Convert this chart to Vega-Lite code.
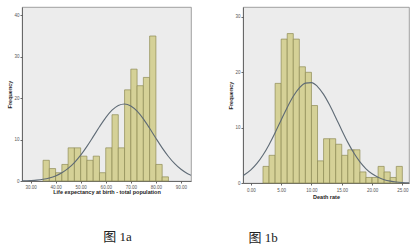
{
  "$schema": "https://vega.github.io/schema/vega-lite/v6.json",
  "padding": {"left": 7, "top": 6, "right": 0, "bottom": 0},
  "autosize": {"type": "pad"},
  "background": "white",
  "config": {
    "view": {"fill": "#ECECEC", "stroke": "#8A8A8A", "strokeWidth": 0.8},
    "axis": {
      "grid": false,
      "labelOverlap": false,
      "labelFlush": false,
      "labelFontSize": 4.5,
      "labelColor": "#555555",
      "labelFont": "Liberation Sans",
      "titleFont": "Liberation Sans",
      "titleFontSize": 5.5,
      "titleFontWeight": "bold",
      "titleColor": "#222222",
      "tickSize": 2,
      "tickColor": "#666666",
      "domainColor": "#555555",
      "domainWidth": 0.8,
      "labelPadding": 1,
      "titlePadding": 1.5
    },
    "title": {"font": "Liberation Serif, Noto Sans CJK SC", "fontSize": 13, "fontWeight": "normal", "color": "#222222"}
  },
  "spacing": 36,
  "hconcat": [
    {
      "width": 169,
      "height": 174,
      "title": {"text": "图 1a", "orient": "bottom", "anchor": "middle", "dx": 11, "offset": 36},
      "encoding": {
        "x": {"type": "quantitative", "title": "Life expectancy at birth - total population",
              "scale": {"domain": [26.6, 94], "nice": false, "zero": false},
              "axis": {"values": [30, 40, 50, 60, 70, 80, 90], "format": ".2f", "titlePadding": 1, "labelOverlap": false}},
        "y": {"type": "quantitative", "title": "Frequency",
              "scale": {"domain": [0, 42], "nice": false},
              "axis": {"values": [0, 10, 20, 30, 40], "labelOverlap": false}}
      },
      "layer": [
        {
          "data": {"values": [
            {"lo": 35, "hi": 37.5, "count": 5},
            {"lo": 37.5, "hi": 40, "count": 3},
            {"lo": 40, "hi": 42.5, "count": 2},
            {"lo": 42.5, "hi": 45, "count": 4},
            {"lo": 45, "hi": 47.5, "count": 8},
            {"lo": 47.5, "hi": 50, "count": 8},
            {"lo": 50, "hi": 52.5, "count": 6},
            {"lo": 52.5, "hi": 55, "count": 5},
            {"lo": 55, "hi": 57.5, "count": 6},
            {"lo": 57.5, "hi": 60, "count": 2},
            {"lo": 60, "hi": 62.5, "count": 8},
            {"lo": 62.5, "hi": 65, "count": 16},
            {"lo": 65, "hi": 67.5, "count": 8},
            {"lo": 67.5, "hi": 70, "count": 22},
            {"lo": 70, "hi": 72.5, "count": 27},
            {"lo": 72.5, "hi": 75, "count": 23},
            {"lo": 75, "hi": 77.5, "count": 25},
            {"lo": 77.5, "hi": 80, "count": 35},
            {"lo": 80, "hi": 82.5, "count": 4},
            {"lo": 82.5, "hi": 85, "count": 1}
          ]},
          "mark": {"type": "rect", "fill": "#D5D197", "stroke": "#8E8B55", "strokeWidth": 0.7},
          "encoding": {
            "x": {"field": "lo"},
            "x2": {"field": "hi"},
            "y": {"field": "count"},
            "y2": {"datum": 0}
          }
        },
        {
          "data": {"values": [
            {"x": 26.6, "y": 0.04}, {"x": 30, "y": 0.12}, {"x": 32.5, "y": 0.22}, {"x": 35, "y": 0.41},
            {"x": 37.5, "y": 0.73}, {"x": 40, "y": 1.22}, {"x": 42.5, "y": 1.97}, {"x": 45, "y": 3.03},
            {"x": 47.5, "y": 4.44}, {"x": 50, "y": 6.23}, {"x": 52.5, "y": 8.36}, {"x": 55, "y": 10.7},
            {"x": 57.5, "y": 13.09}, {"x": 60, "y": 15.31}, {"x": 62.5, "y": 17.1}, {"x": 65, "y": 18.24},
            {"x": 67.5, "y": 18.6}, {"x": 70, "y": 18.11}, {"x": 72.5, "y": 16.85}, {"x": 75, "y": 14.98},
            {"x": 77.5, "y": 12.72}, {"x": 80, "y": 10.32}, {"x": 82.5, "y": 8.0}, {"x": 85, "y": 5.92},
            {"x": 87.5, "y": 4.19}, {"x": 90, "y": 2.83}, {"x": 92.5, "y": 1.83}, {"x": 94, "y": 1.38}
          ]},
          "mark": {"type": "line", "interpolate": "monotone", "color": "#5E6A75", "strokeWidth": 1.1, "clip": true},
          "encoding": {
            "x": {"field": "x"},
            "y": {"field": "y"}
          }
        }
      ]
    },
    {
      "width": 166,
      "height": 176,
      "title": {"text": "图 1b", "orient": "bottom", "anchor": "middle", "dx": -63, "offset": 32},
      "encoding": {
        "x": {"type": "quantitative", "title": "Death rate",
              "scale": {"domain": [-1.3, 26.1], "nice": false, "zero": false},
              "axis": {"values": [0, 5, 10, 15, 20, 25], "format": ".2f", "labelPadding": 2, "titlePadding": 2.5, "labelOverlap": false}},
        "y": {"type": "quantitative", "title": "Frequency",
              "scale": {"domain": [0, 31.8], "nice": false},
              "axis": {"values": [0, 10, 20, 30], "labelOverlap": false}}
      },
      "layer": [
        {
          "data": {"values": [
            {"lo": 2, "hi": 3, "count": 3},
            {"lo": 3, "hi": 4, "count": 5},
            {"lo": 4, "hi": 5, "count": 18},
            {"lo": 5, "hi": 6, "count": 26},
            {"lo": 6, "hi": 7, "count": 27},
            {"lo": 7, "hi": 8, "count": 26},
            {"lo": 8, "hi": 9, "count": 21},
            {"lo": 9, "hi": 10, "count": 20},
            {"lo": 10, "hi": 11, "count": 14},
            {"lo": 11, "hi": 12, "count": 4},
            {"lo": 12, "hi": 13, "count": 8},
            {"lo": 13, "hi": 14, "count": 8},
            {"lo": 14, "hi": 15, "count": 7},
            {"lo": 15, "hi": 16, "count": 5},
            {"lo": 16, "hi": 17, "count": 6},
            {"lo": 17, "hi": 18, "count": 6},
            {"lo": 18, "hi": 19, "count": 2},
            {"lo": 19, "hi": 20, "count": 1},
            {"lo": 20, "hi": 21, "count": 1},
            {"lo": 21, "hi": 22, "count": 3},
            {"lo": 22, "hi": 23, "count": 2},
            {"lo": 23, "hi": 24, "count": 1},
            {"lo": 24, "hi": 25, "count": 3}
          ]},
          "mark": {"type": "rect", "fill": "#D5D197", "stroke": "#8E8B55", "strokeWidth": 0.7},
          "encoding": {
            "x": {"field": "lo"},
            "x2": {"field": "hi"},
            "y": {"field": "count"},
            "y2": {"datum": 0}
          }
        },
        {
          "data": {"values": [
            {"x": -1.3, "y": 1.31}, {"x": 0, "y": 2.36}, {"x": 1, "y": 3.53}, {"x": 2, "y": 5.06},
            {"x": 3, "y": 6.93}, {"x": 4, "y": 9.08}, {"x": 5, "y": 11.39}, {"x": 6, "y": 13.66},
            {"x": 7, "y": 15.67}, {"x": 8, "y": 17.2}, {"x": 9, "y": 18.05}, {"x": 10, "y": 18.14},
            {"x": 11, "y": 17.43}, {"x": 12, "y": 16.02}, {"x": 13, "y": 14.09}, {"x": 14, "y": 11.85},
            {"x": 15, "y": 9.54}, {"x": 16, "y": 7.34}, {"x": 17, "y": 5.41}, {"x": 18, "y": 3.81},
            {"x": 19, "y": 2.57}, {"x": 20, "y": 1.66}, {"x": 21, "y": 1.02}, {"x": 22, "y": 0.6},
            {"x": 23, "y": 0.34}, {"x": 24, "y": 0.18}, {"x": 25, "y": 0.09}, {"x": 26.1, "y": 0.04}
          ]},
          "mark": {"type": "line", "interpolate": "monotone", "color": "#5E6A75", "strokeWidth": 1.1, "clip": true},
          "encoding": {
            "x": {"field": "x"},
            "y": {"field": "y"}
          }
        }
      ]
    }
  ]
}
